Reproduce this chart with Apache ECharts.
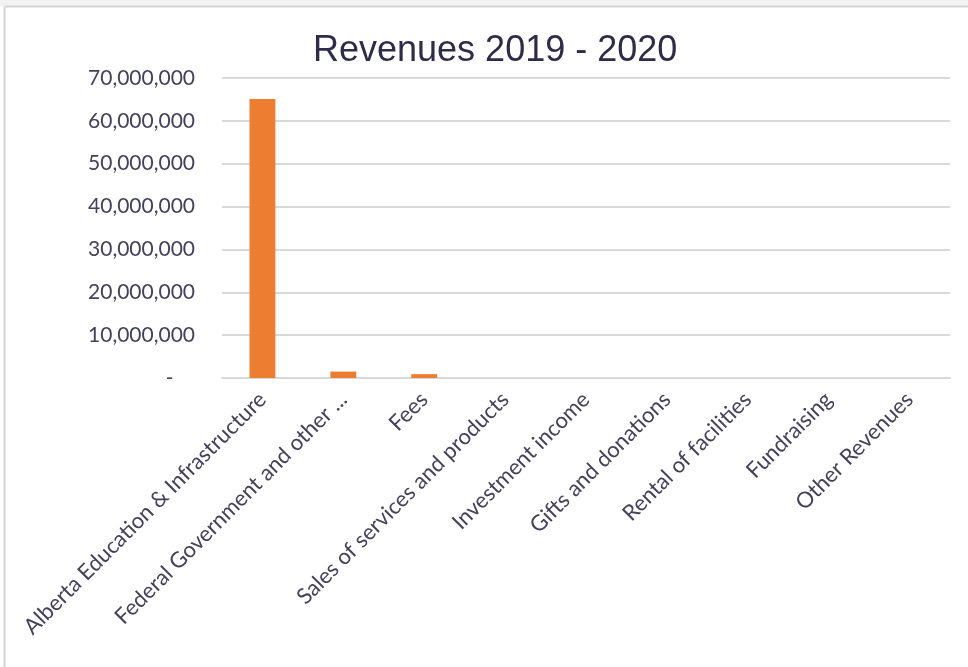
<!DOCTYPE html>
<html><head><meta charset="utf-8">
<script src="https://cdn.jsdelivr.net/npm/echarts@6/dist/echarts.min.js"></script>
<style>html,body{margin:0;padding:0;background:#fff}#c{width:968px;height:667px}</style>
</head><body><div id="c"></div>
<script>
const categories = ["Alberta Education & Infrastructure","Federal Government and other ...","Fees","Sales of services and products","Investment income","Gifts and donations","Rental of facilities","Fundraising","Other Revenues"];
const revenues = [65100000, 1500000, 900000, 0, 0, 0, 0, 0, 0];
const yTicks = {min: 0, max: 70000000, interval: 10000000};

const chart = echarts.init(document.getElementById('c'));
chart.setOption({
  animation: false,
  backgroundColor: '#ffffff',
  title: {
    text: 'Revenues 2019 - 2020', left: 308, top: 28,
    textStyle: {fontFamily: 'Liberation Sans', fontSize: 36, fontWeight: 'normal', color: '#2e2c48'}
  },
  graphic: [
    {type: 'rect', shape: {x: 0, y: 0, width: 968, height: 6}, style: {fill: '#f2f2f2'}},
    {type: 'line', shape: {x1: 4.5, y1: 6.5, x2: 968, y2: 6.5}, style: {stroke: '#d4d4d4', lineWidth: 2}},
    {type: 'line', shape: {x1: 4.5, y1: 6.5, x2: 4.5, y2: 667}, style: {stroke: '#d4d4d4', lineWidth: 2}}
  ],
  grid: {left: 222, right: 18, top: 78, bottom: 289},
  xAxis: {
    type: 'category', data: categories,
    axisLine: {show: true, lineStyle: {color: '#d9d9d9', width: 2}},
    axisTick: {show: false},
    axisLabel: {rotate: 45, margin: 18, interval: 0, fontFamily: 'Lato', fontSize: 22, color: '#44425a'}
  },
  yAxis: {
    type: 'value', min: yTicks.min, max: yTicks.max, interval: yTicks.interval,
    axisLine: {show: false}, axisTick: {show: false},
    splitLine: {lineStyle: {color: '#d9d9d9', width: 2}},
    axisLabel: {
      margin: 27, fontFamily: 'Lato', fontSize: 21, color: '#44425a',
      formatter: v => v === 0 ? '-    ' : v.toLocaleString('en-US')
    }
  },
  series: [{
    type: 'bar', data: revenues, barWidth: '32%',
    itemStyle: {color: '#ED7D31'}
  }]
});
</script></body></html>
